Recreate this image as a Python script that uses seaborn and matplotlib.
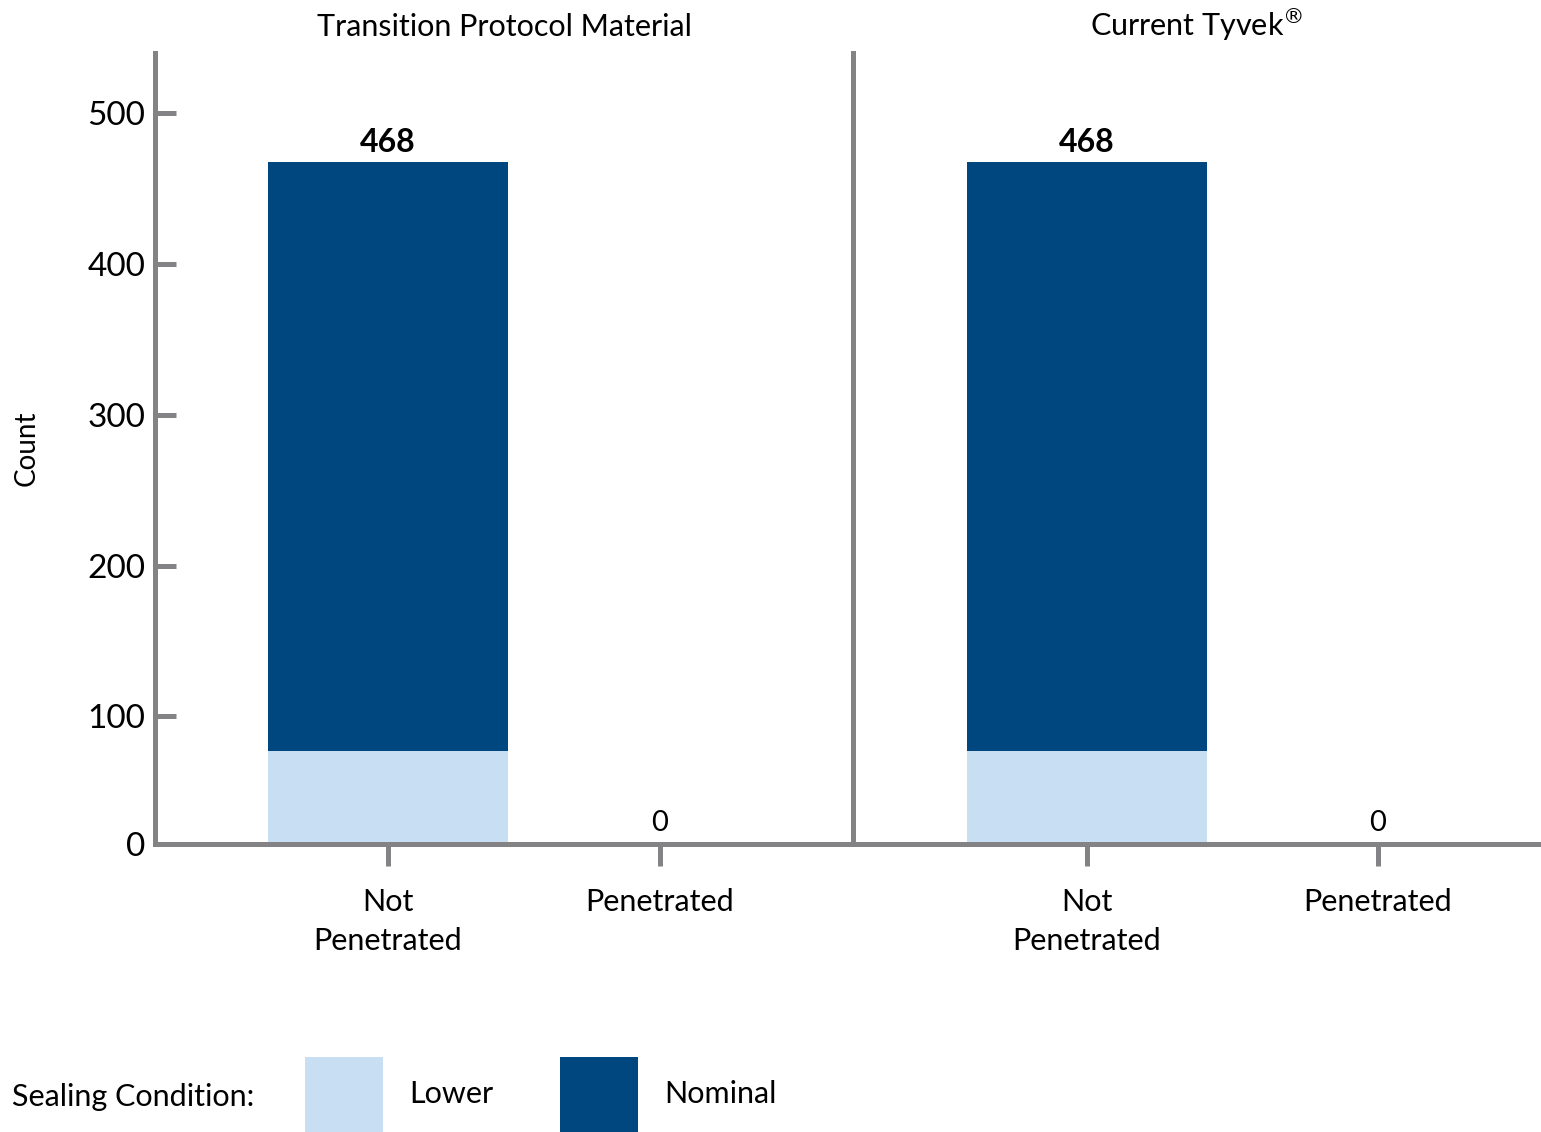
import seaborn as sns
import matplotlib.pyplot as plt
import matplotlib.patches as mpatches
import pandas as pd

panels = ["Transition Protocol Material", "Current Tyvek$^{\u00ae}$"]
outcomes = ["Not\nPenetrated", "Penetrated"]
lower_counts = [[77, 0], [77, 0]]
nominal_counts = [[391, 0], [391, 0]]
conditions = ["Lower", "Nominal"]
y_ticks = [100, 200, 300, 400, 500]

colors = {"Lower": "#c7def3", "Nominal": "#00467f"}
grey = "#838386"

sns.set_theme(style="white")
plt.rcParams["font.family"] = ["Lato", "DejaVu Sans"]
plt.rcParams["text.color"] = "black"
plt.rcParams["xtick.labelcolor"] = "black"
plt.rcParams["ytick.labelcolor"] = "black"
plt.rcParams["axes.labelcolor"] = "black"

fig = plt.figure(figsize=(15.41, 11.32), dpi=100)
ax1 = fig.add_axes([0.1006, 0.2544, 0.4529, 0.6988])
ax2 = fig.add_axes([0.5535, 0.2544, 0.4465, 0.6988], sharey=ax1)

# axis floor sits a little above zero in the original
y_floor, y_top = 15.25, 540

layout = [(ax1, (-0.857, 1.71), 0.886), (ax2, (-0.804, 1.56), 0.825)]

for (ax, xlim, w), title, low, nom in zip(layout, panels, lower_counts, nominal_counts):
    df = pd.DataFrame({"outcome": outcomes, "Lower": low, "Nominal": nom})
    df["total"] = df["Lower"] + df["Nominal"]

    sns.barplot(data=df, x="outcome", y="total", color=colors["Nominal"],
                saturation=1, width=w, errorbar=None, linewidth=0, ax=ax)
    sns.barplot(data=df, x="outcome", y="Lower", color=colors["Lower"],
                saturation=1, width=w, errorbar=None, linewidth=0, ax=ax)

    tops = ax.containers[0]
    ax.bar_label(tops, labels=[str(v) if v > 0 else "" for v in df["total"]],
                 padding=3, fontsize=23, fontweight="bold", color="black")
    ax.bar_label(tops, labels=["" if v > 0 else "0" for v in df["total"]],
                 padding=22, fontsize=21, color="black", annotation_clip=False)

    ax.set_xlim(*xlim)
    ax.set_ylim(y_floor, y_top)
    ax.set_title(title, fontsize=22, pad=12)
    ax.set_xlabel("")
    ax.set_ylabel("")

    for side in ["top", "right"]:
        ax.spines[side].set_visible(False)
    for side in ["left", "bottom"]:
        ax.spines[side].set_color(grey)
        ax.spines[side].set_linewidth(3.6)

    ax.tick_params(axis="x", direction="out", length=16, width=3.6, color=grey,
                   labelsize=22, pad=16, bottom=True)
    for lbl in ax.get_xticklabels():
        lbl.set_linespacing(1.45)

ax1.set_yticks([y_floor] + y_ticks, labels=["0"] + [str(t) for t in y_ticks])
ax1.tick_params(axis="y", direction="in", length=15, width=3.6, color=grey,
                labelsize=24, pad=7, left=True)
ax2.tick_params(axis="y", left=False, labelleft=False)
ax1.get_yticklabels()[0].set_y(y_floor - 3)

ax1.set_ylabel("Count", fontsize=20)
ax1.yaxis.set_label_coords(-0.165, 0.5)

fig.text(12 / 1541, 0.031, "Sealing Condition:", fontsize=22, va="center")
handles = [mpatches.Patch(color=colors[c], linewidth=0) for c in conditions]
fig.legend(handles, conditions, loc="lower left", bbox_to_anchor=(305 / 1541, 0),
           ncol=2, frameon=False, fontsize=22, handlelength=2.55, handleheight=3.39,
           handletextpad=0.85, columnspacing=2.2, borderpad=0, borderaxespad=0)

fig.savefig("out.png", dpi=100)
